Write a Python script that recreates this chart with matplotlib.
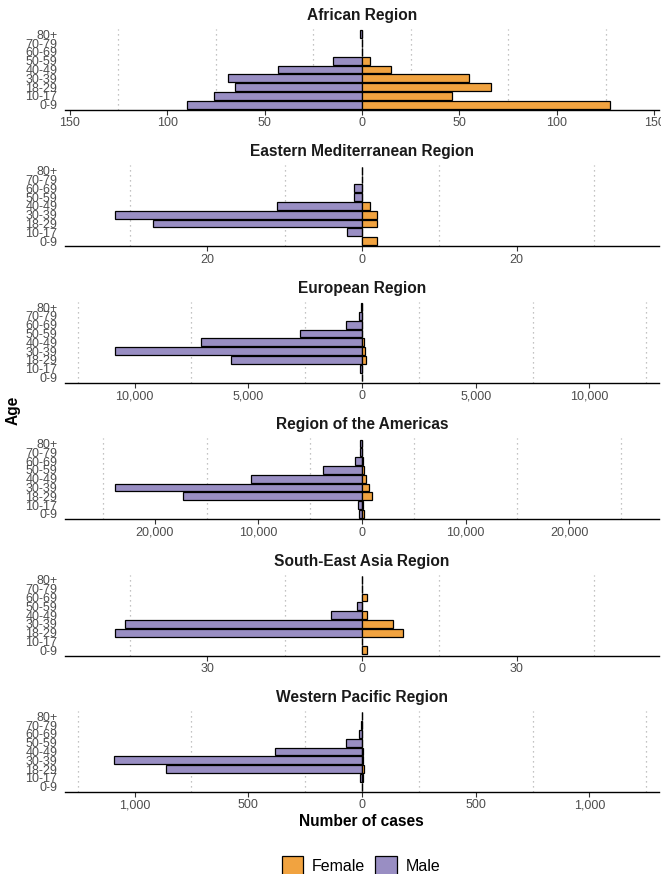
import numpy as np
import matplotlib
matplotlib.use("Agg")
import matplotlib.pyplot as plt
from matplotlib.patches import Patch
from matplotlib.ticker import FixedLocator, FuncFormatter

plt.rcParams["font.family"] = ["Liberation Sans", "DejaVu Sans"]


''' Data '''
age_groups = ["0-9", "10-17", "18-29", "30-39", "40-49", "50-59", "60-69", "70-79", "80+"]

regions = [
    "African Region",
    "Eastern Mediterranean Region",
    "European Region",
    "Region of the Americas",
    "South-East Asia Region",
    "Western Pacific Region",
]

female_afr = [127, 46, 66, 55, 15, 4, 0, 0, 0]
male_afr = [90, 76, 65, 69, 43, 15, 0, 0, 1]

female_emr = [2, 0, 2, 2, 1, 0, 0, 0, 0]
male_emr = [0, 2, 27, 32, 11, 1, 1, 0, 0]

female_eur = [10, 20, 170, 150, 90, 20, 5, 2, 0]
male_eur = [20, 90, 5740, 10880, 7080, 2710, 690, 110, 30]

female_amr = [150, 100, 940, 660, 370, 200, 80, 20, 0]
male_amr = [250, 370, 17300, 23900, 10700, 3800, 700, 200, 150]

female_sear = [1, 0, 8, 6, 1, 0, 1, 0, 0]
male_sear = [0, 0, 48, 46, 6, 1, 0, 0, 0]

female_wpr = [0, 4, 7, 5, 3, 0, 0, 0, 0]
male_wpr = [0, 10, 860, 1088, 381, 71, 13, 4, 0]

females = [female_afr, female_emr, female_eur, female_amr, female_sear, female_wpr]
males = [male_afr, male_emr, male_eur, male_amr, male_sear, male_wpr]

# break spacing per panel
steps = [50, 20, 5000, 10000, 30, 500]

FEMALE = "#f1a340"
MALE = "#998ec3"
TEXT = "#4d4d4d"


''' Layout (pixels) '''
W, H = 661, 874
left, right = 65, 659
panel_h = 81
bottoms = [110 + 136.4 * i for i in range(6)]

fig = plt.figure(figsize=(W / 100, H / 100), dpi=100)

y = np.arange(len(age_groups))

for i, region in enumerate(regions):
    b = bottoms[i]
    ax = fig.add_axes([left / W, 1 - b / H, (right - left) / W, panel_h / H])

    f = np.array(females[i])
    m = np.array(males[i])
    lim = 1.2 * max(f.max(), m.max())

    ax.barh(y, -m, height=0.9, color=MALE, edgecolor="black", linewidth=0.9, zorder=3)
    ax.barh(y, f, height=0.9, color=FEMALE, edgecolor="black", linewidth=0.9, zorder=3)

    ax.set_xlim(-lim, lim)
    ax.set_ylim(-0.6, len(age_groups) - 0.4)

    step = steps[i]
    n = int(lim // step)
    majors = np.arange(-n, n + 1) * step
    minors = np.arange(-n - 1, n + 1) * step + step / 2
    minors = minors[np.abs(minors) < lim]
    ax.xaxis.set_major_locator(FixedLocator(majors))
    ax.xaxis.set_minor_locator(FixedLocator(minors))
    ax.xaxis.set_major_formatter(FuncFormatter(lambda v, p: f"{abs(int(round(v))):,}"))
    ax.grid(which="minor", axis="x", color="#b0b0b0", linestyle=(0, (1, 3)), linewidth=0.9, zorder=0)
    ax.tick_params(axis="x", which="major", length=3.3, width=0.8, color="#333333",
                   labelsize=9, labelcolor=TEXT, pad=2)
    ax.tick_params(axis="x", which="minor", length=0)

    ax.set_yticks(y)
    ax.set_yticklabels(age_groups)
    ax.tick_params(axis="y", length=0, labelsize=9, labelcolor=TEXT, pad=5.5)

    for s in ["top", "right", "left"]:
        ax.spines[s].set_visible(False)
    ax.spines["bottom"].set_linewidth(1.0)
    ax.spines["bottom"].set_color("black")

    ax.set_title(region, fontsize=11.2, fontweight="bold", color="#1a1a1a", pad=6.5)

# shared axis titles
fig.text(361 / W, 1 - 821 / H, "Number of cases", ha="center", va="center",
         fontsize=11.2, fontweight="bold", color="black")
fig.text(13 / W, 1 - 410 / H, "Age", ha="center", va="center", rotation=90,
         fontsize=11.2, fontweight="bold", color="black")

handles = [Patch(facecolor=FEMALE, edgecolor="black", linewidth=0.9, label="Female"),
           Patch(facecolor=MALE, edgecolor="black", linewidth=0.9, label="Male")]
fig.legend(handles=handles, loc="center", bbox_to_anchor=(361 / W, 1 - 866 / H), ncol=2,
           frameon=False, fontsize=11.5, handlelength=1.37, handleheight=1.5,
           handletextpad=0.55, columnspacing=0.6, borderpad=0)

fig.savefig("out.png", dpi=100)
